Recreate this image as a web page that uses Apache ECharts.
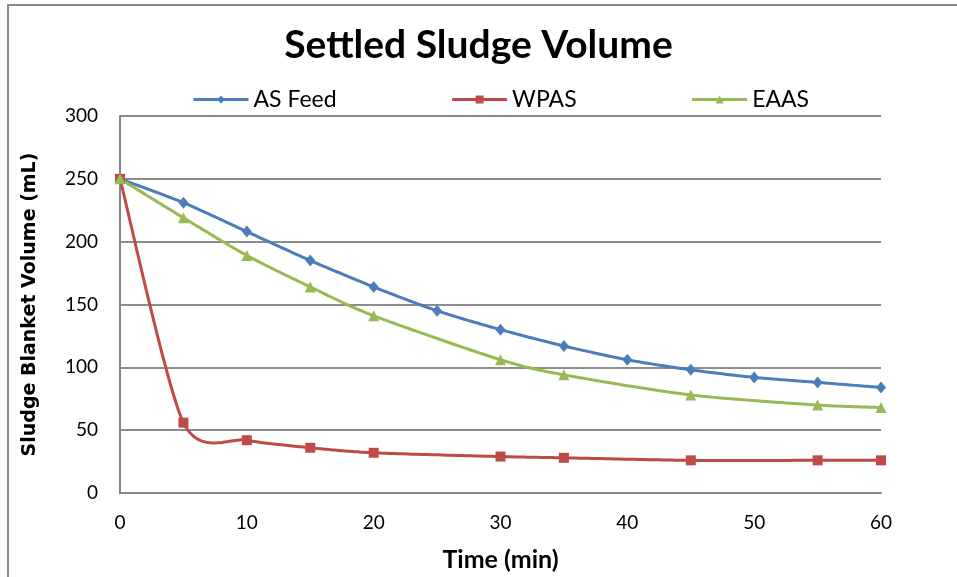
<!DOCTYPE html>
<html>
<head>
<meta charset="utf-8">
<script src="https://cdn.jsdelivr.net/npm/echarts@6/dist/echarts.min.js"></script>
<style>
  html, body { margin: 0; padding: 0; background: #fff; }
  #chart { width: 957px; height: 577px; }
</style>
</head>
<body>
<div id="chart"></div>
<script>
// Sampling times (min) for each sludge
const timeAS = [0, 5, 10, 15, 20, 25, 30, 35, 40, 45, 50, 55, 60];
const timeWPAS = [0, 5, 10, 15, 20, 30, 35, 45, 55, 60];
const timeEAAS = [0, 5, 10, 15, 20, 30, 35, 45, 55, 60];

// Sludge blanket volume (mL)
const asFeed = [250, 231, 208, 185, 164, 145, 130, 117, 106, 98, 92, 88, 84];
const wpas = [250, 56, 42, 36, 32, 29, 28, 26, 26, 26];
const eaas = [250, 219, 189, 164, 141, 106, 94, 78, 70, 68];

const seriesNames = ['AS Feed', 'WPAS', 'EAAS'];
const colors = ['#4A7EBB', '#BE4B48', '#98B954'];

const pairs = (xs, ys) => xs.map((x, i) => [x, ys[i]]);

const baseFont = 'Lato, "Open Sans", sans-serif';

// Cardinal spline through pixel points, sampled into a polyline
const TENSION = 0.13;
function sampleSpline(pts) {
  const out = [pts[0]];
  for (let i = 0; i < pts.length - 1; i++) {
    const p0 = pts[i - 1] || pts[i];
    const p1 = pts[i];
    const p2 = pts[i + 1];
    const p3 = pts[i + 2] || pts[i + 1];
    const c1 = [p1[0] + (p2[0] - p0[0]) * TENSION, p1[1] + (p2[1] - p0[1]) * TENSION];
    const c2 = [p2[0] - (p3[0] - p1[0]) * TENSION, p2[1] - (p3[1] - p1[1]) * TENSION];
    const steps = 30;
    for (let s = 1; s <= steps; s++) {
      const t = s / steps, u = 1 - t;
      const a = u * u * u, b = 3 * u * u * t, c = 3 * u * t * t, d = t * t * t;
      out.push([
        a * p1[0] + b * c1[0] + c * c2[0] + d * p2[0],
        a * p1[1] + b * c1[1] + c * c2[1] + d * p2[1]
      ]);
    }
  }
  return out;
}

// Smooth curve drawn through the axis scales
function curveSeries(xs, ys, color) {
  return {
    type: 'custom',
    name: '',
    silent: true,
    data: [[xs[0], ys[0]]],
    z: 2,
    renderItem: function (params, api) {
      const pts = xs.map((x, i) => api.coord([x, ys[i]]));
      return {
        type: 'polyline',
        silent: true,
        shape: { points: sampleSpline(pts) },
        style: { stroke: color, lineWidth: 3, fill: 'none', lineJoin: 'round' }
      };
    }
  };
}

// Markers (the curve itself is drawn by curveSeries)
function markerSeries(name, data, color, symbol, size) {
  return {
    name: name,
    type: 'line',
    data: data,
    symbol: symbol,
    symbolSize: size,
    showAllSymbol: true,
    lineStyle: { color: color, width: 3, opacity: 0 },
    itemStyle: { color: color },
    emphasis: { disabled: true },
    z: 3
  };
}

const chart = echarts.init(document.getElementById('chart'), null, { renderer: 'canvas' });

chart.setOption({
  animation: false,
  backgroundColor: '#ffffff',
  graphic: [{
    type: 'rect',
    shape: { x: 8, y: 5, width: 1200, height: 1200 },
    style: { fill: 'none', stroke: '#8a8a8a', lineWidth: 2 },
    silent: true,
    z: -1
  }],
  title: {
    text: 'Settled Sludge Volume',
    left: 'center',
    top: 21,
    textStyle: { fontFamily: baseFont, fontWeight: 'bold', fontSize: 39, color: '#000' }
  },
  legend: {
    data: seriesNames.map((n, i) => ({
      name: n,
      lineStyle: { color: colors[i], width: 3, opacity: 1 },
      itemStyle: { color: colors[i] }
    })),
    top: 83,
    left: 187,
    itemWidth: 55,
    itemHeight: 10,
    itemGap: 114,
    textStyle: { fontFamily: baseFont, fontSize: 23, color: '#000' }
  },
  grid: { left: 120, right: 76, top: 116, bottom: 83, containLabel: false },
  xAxis: {
    type: 'value',
    min: 0,
    max: 60,
    interval: 10,
    name: 'Time (min)',
    nameLocation: 'middle',
    nameGap: 54,
    nameTextStyle: { fontFamily: baseFont, fontWeight: 'bold', fontSize: 25, color: '#000' },
    axisLine: { show: true, lineStyle: { color: '#868686', width: 2 } },
    axisTick: { show: false },
    splitLine: { show: false },
    axisLabel: { fontFamily: baseFont, fontSize: 19, color: '#000', margin: 20 }
  },
  yAxis: {
    type: 'value',
    min: 0,
    max: 300,
    interval: 50,
    name: 'Sludge Blanket Volume (mL)',
    nameLocation: 'middle',
    nameGap: 80,
    nameRotate: 90,
    nameTextStyle: { fontFamily: '"DejaVu Sans", sans-serif', fontWeight: 'bold', fontSize: 19, color: '#000' },
    axisLine: { show: true, lineStyle: { color: '#868686', width: 2 } },
    axisTick: { show: false },
    splitLine: { show: true, lineStyle: { color: '#8c8c8c', width: 2 } },
    axisLabel: { fontFamily: baseFont, fontSize: 19, color: '#000', margin: 22 }
  },
  series: [
    curveSeries(timeAS, asFeed, colors[0]),
    curveSeries(timeWPAS, wpas, colors[1]),
    curveSeries(timeEAAS, eaas, colors[2]),
    markerSeries(seriesNames[0], pairs(timeAS, asFeed), colors[0], 'diamond', [10, 12]),
    markerSeries(seriesNames[1], pairs(timeWPAS, wpas), colors[1], 'rect', 10),
    markerSeries(seriesNames[2], pairs(timeEAAS, eaas), colors[2], 'triangle', 11)
  ]
});
</script>
</body>
</html>
